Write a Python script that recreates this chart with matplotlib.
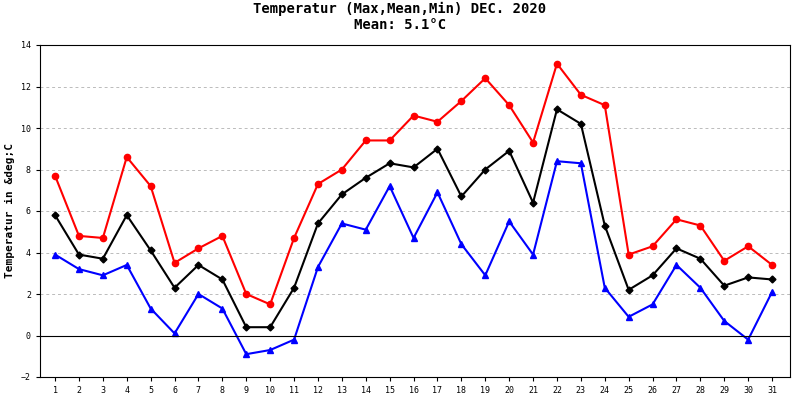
import matplotlib
matplotlib.use("Agg")
import matplotlib.pyplot as plt

days = list(range(1, 32))
tmax = [7.7,4.8,4.7,8.6,7.2,3.5,4.2,4.8,2.0,1.5,4.7,7.3,8.0,9.4,9.4,10.6,10.3,11.3,12.4,11.1,9.3,13.1,11.6,11.1,3.9,4.3,5.6,5.3,3.6,4.3,3.4]
tmean = [5.8,3.9,3.7,5.8,4.1,2.3,3.4,2.7,0.4,0.4,2.3,5.4,6.8,7.6,8.3,8.1,9.0,6.7,8.0,8.9,6.4,10.9,10.2,5.3,2.2,2.9,4.2,3.7,2.4,2.8,2.7]
tmin = [3.9,3.2,2.9,3.4,1.3,0.1,2.0,1.3,-0.9,-0.7,-0.2,3.3,5.4,5.1,7.2,4.7,6.9,4.4,2.9,5.5,3.9,8.4,8.3,2.3,0.9,1.5,3.4,2.3,0.7,-0.2,2.1]
yticks = list(range(-2, 15, 2))

plt.rcParams["font.family"] = "DejaVu Sans Mono"
fig = plt.figure(figsize=(8, 4), dpi=100)
ax = fig.add_axes([0.05, 0.0575, 0.9375, 0.83])
ax.plot(days, tmax, color="red", marker="o", ms=4.5, lw=1.5)
ax.plot(days, tmean, color="black", marker="D", ms=3.5, lw=1.5)
ax.plot(days, tmin, color="blue", marker="^", ms=4.5, lw=1.5)
ax.axhline(0, color="black", lw=0.8)
ax.set_xlim(0.37, 31.75)
ax.set_ylim(-2, 14)
ax.set_xticks(days)
ax.set_yticks(yticks)
ax.tick_params(labelsize=6, length=3)
ax.grid(axis="y", color="#bbbbbb", ls=(0, (3, 3)), lw=0.7)
ax.set_ylabel("Temperatur in &deg;C", fontsize=8, fontweight="bold")
fig.suptitle("Temperatur (Max,Mean,Min) DEC. 2020\nMean: 5.1°C", fontsize=10, fontweight="bold", y=0.995)
fig.savefig("out.png")
